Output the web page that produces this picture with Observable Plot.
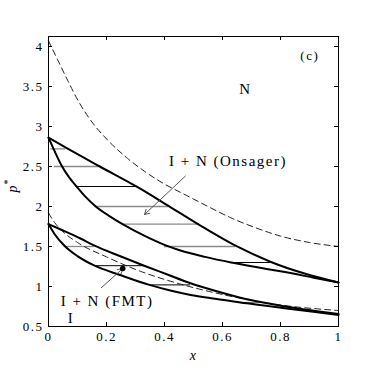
<!DOCTYPE html>
<html><head><meta charset="utf-8">
<script src="https://cdn.jsdelivr.net/npm/d3@7"></script>
<script src="https://cdn.jsdelivr.net/npm/@observablehq/plot@0.6"></script>
<style>body{margin:0;background:#fff}</style>
</head><body><div id="chart"></div>
<script>
// ---- data ----
const xTicks = [0, 0.2, 0.4, 0.6, 0.8, 1];
const yTicks = [0.5, 1, 1.5, 2, 2.5, 3, 3.5, 4];

// Onsager coexistence: nematic branch (upper) and isotropic branch (lower)
const onsNx = [0, 0.06, 0.177, 0.306, 0.415, 0.52, 0.645, 0.765, 0.88, 1];
const onsNp = [2.86, 2.735, 2.5, 2.245, 2.005, 1.77, 1.51, 1.31, 1.165, 1.05];
const onsIx = [0, 0.02, 0.044, 0.07, 0.097, 0.128, 0.16, 0.21, 0.26, 0.33, 0.40, 0.455, 0.54, 0.63, 0.72, 0.8, 0.915, 1];
const onsIp = [2.86, 2.70, 2.52, 2.37, 2.25, 2.12, 2.01, 1.88, 1.77, 1.635, 1.52, 1.45, 1.37, 1.30, 1.24, 1.19, 1.11, 1.05];

// FMT coexistence
const fmtNx = [0, 0.05, 0.11, 0.159, 0.25, 0.33, 0.41, 0.49, 0.58, 0.662, 0.75, 0.834, 0.92, 1];
const fmtNp = [1.78, 1.70, 1.60, 1.51, 1.375, 1.26, 1.15, 1.04, 0.94, 0.86, 0.795, 0.74, 0.695, 0.655];
const fmtIx = [0, 0.02, 0.055, 0.1, 0.159, 0.25, 0.348, 0.42, 0.49, 0.58, 0.662, 0.75, 0.834, 0.92, 1];
const fmtIp = [1.78, 1.66, 1.51, 1.38, 1.26, 1.14, 1.02, 0.95, 0.895, 0.845, 0.80, 0.76, 0.72, 0.68, 0.645];

// dashed curves
const dashUx = [0, 0.032, 0.067, 0.101, 0.147, 0.204, 0.273, 0.331, 0.40, 0.467, 0.55, 0.628, 0.71, 0.8, 0.9, 1];
const dashUp = [4.07, 3.83, 3.57, 3.33, 3.07, 2.83, 2.60, 2.44, 2.28, 2.155, 2.0, 1.86, 1.74, 1.63, 1.55, 1.50];
const dashLx = [0, 0.021, 0.04, 0.10, 0.2, 0.317, 0.455, 0.6, 0.777, 1];
const dashLp = [1.92, 1.80, 1.72, 1.55, 1.37, 1.19, 1.03, 0.90, 0.78, 0.70];

// tie lines
const tieP  = [2.72, 2.5, 2.25, 2.0, 1.78, 1.5, 1.30, 1.5, 1.26, 1.02, 0.80];
const tieX1 = [0.008, 0.02, 0.097, 0.16, 0.26, 0.40, 0.63, 0.055, 0.159, 0.348, 0.662];
const tieX2 = [0.06, 0.177, 0.306, 0.415, 0.52, 0.645, 0.765, 0.159, 0.33, 0.49, 0.75];
const darkTieIdx = [2, 6, 8, 9];

// annotations
const labels = ["N", "I + N (Onsager)", "I + N (FMT)", "I"];
const labelX = [0.679, 0.619, 0.202, 0.078];
const labelP = [3.47, 2.57, 0.82, 0.605];
const panelLabel = ["(c)"];
const panelX = [0.901];
const panelP = [3.88];

const arrowX1 = [0.472, 0.182];
const arrowP1 = [2.38, 0.984];
const arrowX2 = [0.331, 0.256];
const arrowP2 = [1.90, 1.225];
const dotX = [0.256];
const dotP = [1.225];

// ---- build ----
const pts = (xs, ps) => xs.map((x, i) => ({x, p: ps[i]}));
const ties = tieP.map((p, i) => ({p, x1: tieX1[i], x2: tieX2[i], dark: darkTieIdx.includes(i)}));

const W = 374, H = 376, mL = 48, mR = 36, mT = 36, mB = 50;
const fw = W - mL - mR, fh = H - mT - mB;
const serif = "'Liberation Serif', 'DejaVu Serif', serif";
const solid = {x: "x", y: "p", stroke: "#000", strokeWidth: 2, curve: "monotone-x"};
const dashed = {x: "x", y: "p", stroke: "#222", strokeWidth: 1, strokeDasharray: "6,4", curve: "monotone-x"};

const chart = Plot.plot({
  width: W, height: H,
  marginLeft: mL, marginRight: mR, marginTop: mT, marginBottom: mB,
  style: `font-family: ${serif}; font-size: 13px; letter-spacing: 1.5px; background: #fff; color: #000; overflow: visible;`,
  x: {domain: [0, 1]},
  y: {domain: [0.5, 4.125]},
  marks: [
    Plot.ruleY(ties.filter(d => !d.dark), {y: "p", x1: "x1", x2: "x2", stroke: "#8a8a8a", strokeWidth: 1.3}),
    Plot.ruleY(ties.filter(d => d.dark), {y: "p", x1: "x1", x2: "x2", stroke: "#000", strokeWidth: 1}),
    Plot.line(pts(dashUx, dashUp), dashed),
    Plot.line(pts(dashLx, dashLp), dashed),
    Plot.line(pts(onsNx, onsNp), solid),
    Plot.line(pts(onsIx, onsIp), solid),
    Plot.line(pts(fmtNx, fmtNp), solid),
    Plot.line(pts(fmtIx, fmtIp), solid),
    Plot.arrow(arrowX1.map((x, i) => ({x1: x, y1: arrowP1[i], x2: arrowX2[i], y2: arrowP2[i]})),
      {x1: "x1", y1: "y1", x2: "x2", y2: "y2", stroke: "#555", strokeWidth: 1, headLength: 8}),
    Plot.dot(pts(dotX, dotP), {x: "x", y: "p", r: 2.8, fill: "#000"}),
    Plot.text(pts(labelX, labelP).map((d, i) => ({...d, t: labels[i]})), {x: "x", y: "p", text: "t", fontSize: 15, fontFamily: serif}),
    Plot.text(pts(panelX, panelP).map((d, i) => ({...d, t: panelLabel[i]})), {x: "x", y: "p", text: "t", fontSize: 13, fontFamily: serif}),
    Plot.frame({stroke: "#000", strokeWidth: 1}),
    Plot.tickX(xTicks, {x: d => d, insetTop: fh - 4, stroke: "#000"}),
    Plot.tickX(xTicks, {x: d => d, insetBottom: fh - 4, stroke: "#000"}),
    Plot.tickY(yTicks, {y: d => d, insetRight: fw - 4, stroke: "#000"}),
    Plot.tickY(yTicks, {y: d => d, insetLeft: fw - 4, stroke: "#000"}),
    Plot.axisX(xTicks, {tickSize: 0, tickPadding: 5, tickFormat: d => String(d), label: null, fontSize: 13, fontFamily: serif}),
    Plot.axisY(yTicks, {tickSize: 0, tickPadding: 5, tickFormat: d => String(d), label: null, fontSize: 13, fontFamily: serif}),
    Plot.text(["x"], {frameAnchor: "bottom", dy: 33, text: d => d, fontStyle: "italic", fontSize: 14, fontFamily: serif}),
    Plot.text(["p"], {frameAnchor: "left", dx: -36, dy: 11, text: d => d, rotate: -90, fontStyle: "italic", fontSize: 14, fontFamily: serif}),
    Plot.text(["*"], {frameAnchor: "left", dx: -41, dy: 3, text: d => d, rotate: -90, fontSize: 10, fontFamily: serif})
  ]
});
document.getElementById("chart").appendChild(chart);
</script>
</body></html>
